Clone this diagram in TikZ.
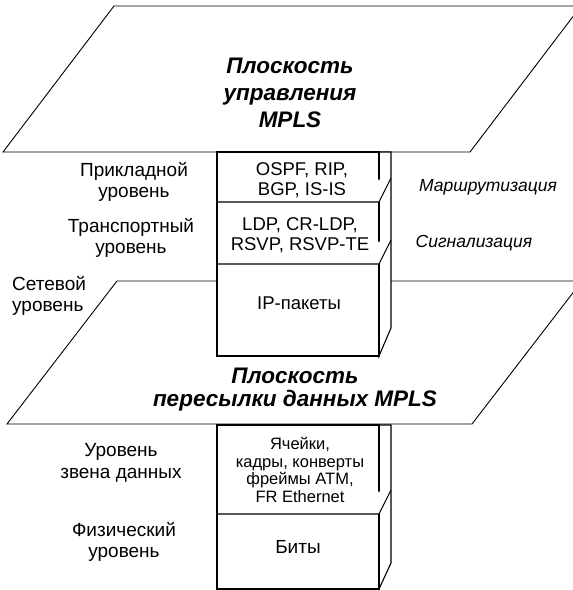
\documentclass[tikz,border=0pt]{standalone}
\usepackage{fontspec}
\setmainfont{Liberation Sans}
\begin{document}
\begin{tikzpicture}[x=1pt,y=-1pt,
  plane/.style={draw=black,fill=white,line width=0.9pt,line join=miter},
  boxline/.style={draw=black,fill=white,line width=1.1pt},
  lbl/.style={align=center,inner sep=0pt,font=\fontsize{19}{21.5}\selectfont},
  blbl/.style={align=center,inner sep=0pt,font=\fontsize{18.5}{20.5}\selectfont},
  slbl/.style={align=center,inner sep=0pt,font=\fontsize{16.5}{17.8}\selectfont},
  ttl/.style={align=center,inner sep=0pt,font=\fontsize{22.5}{27}\selectfont\bfseries\itshape},
  itl/.style={inner sep=0pt,font=\fontsize{17.5}{21}\selectfont\itshape}]
\useasboundingbox (0,0) rectangle (573,590);
% top plane
\draw[plane] (3,152) -- (470,152) -- (581,6) -- (114,6) -- cycle;
\node[ttl] (t1) at (290,93) {Плоскость\\управления\\MPLS};
% bottom plane
\draw[plane] (7,424) -- (472,424) -- (582,281) -- (117,281) -- cycle;
% upper stack
\draw[boxline] (379,152) -- (391,152) -- (391,328) -- (379,356) -- cycle;
\draw[boxline] (217,152) rectangle (379,356);
\draw[boxline] (217,202) -- (379,202) -- (391,178);
\draw[boxline] (217,264) -- (379,264) -- (391,240);
% lower stack
\draw[boxline] (379,425) -- (391,425) -- (391,563) -- (379,589) -- cycle;
\draw[boxline] (217,425) rectangle (379,589);
\draw[boxline] (217,514) -- (379,514) -- (391,490);
% title 2
\node[ttl,font=\fontsize{22.5}{23}\selectfont\bfseries\itshape] (t2) at (295,390) {Плоскость\\пересылки данных MPLS};
% box texts
\node[blbl] (osp) at (302,180) {OSPF, RIP,\\BGP, IS-IS};
\node[blbl] (ldp) at (300,235) {LDP, CR-LDP,\\RSVP, RSVP-TE};
\node[blbl] (ip) at (299,303) {IP-пакеты};
\node[slbl] (cell) at (300,470) {Ячейки,\\кадры, конверты\\фреймы ATM,\\FR Ethernet};
\node[lbl] (bit) at (298,547) {Биты};
% side labels
\node[lbl] (app) at (134,182) {Прикладной\\уровень};
\node[lbl] (tr) at (131,238) {Транспортный\\уровень};
\node[lbl,align=left,anchor=west] (net) at (12,296) {Сетевой\\уровень};
\node[lbl] (dl) at (121,463) {Уровень\\звена данных};
\node[lbl] (ph) at (124,542) {Физический\\уровень};
\node[itl] (rt) at (488,187) {Маршрутизация};
\node[itl] (sg) at (474,243) {Сигнализация};
\end{tikzpicture}
\end{document}
